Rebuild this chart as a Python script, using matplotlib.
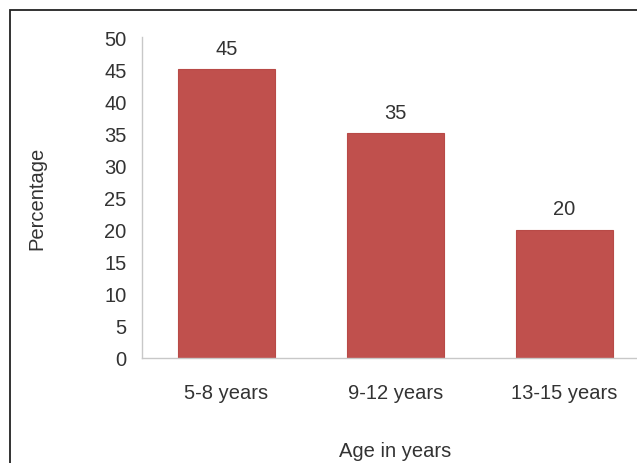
import matplotlib.pyplot as plt
from matplotlib.patches import Rectangle

plt.rcParams['font.family'] = ['Liberation Sans', 'DejaVu Sans']

age_groups = ["5-8 years", "9-12 years", "13-15 years"]
percentages = [45, 35, 20]
y_ticks = list(range(0, 55, 5))

bar_color = "#C0504D"
text_color = "#333333"
fs = 14.5

fig = plt.figure(figsize=(6.37, 4.64), dpi=100)
# outer frame (runs off the right and bottom edges)
fig.patches.append(Rectangle((10 / 637, -0.05), 1.1, 1 - 11 / 464 + 0.05,
                             transform=fig.transFigure, fill=False,
                             edgecolor="#222222", linewidth=1.3))

ax = fig.add_axes([142 / 637, 1 - 359 / 464, (649 - 142) / 637, (359 - 38) / 464])
x = range(len(age_groups))
bars = ax.bar(x, percentages, width=0.57, color=bar_color, edgecolor="#B84A47", linewidth=0.8)

for xi, v in zip(x, percentages):
    ax.text(xi, v + 1.8, str(v), ha="center", va="bottom", fontsize=fs, color=text_color)

ax.set_xlim(-0.5, 2.5)
ax.set_ylim(0, 50)
ax.set_yticks(y_ticks)
ax.set_xticks(list(x))
ax.set_xticklabels(age_groups)
ax.tick_params(axis="y", length=0, pad=11, labelsize=fs, labelcolor=text_color)
ax.tick_params(axis="x", length=0, pad=18, labelsize=fs, labelcolor=text_color)

for side in ["top", "right"]:
    ax.spines[side].set_visible(False)
for side in ["left", "bottom"]:
    ax.spines[side].set_color("#C8C8C8")
    ax.spines[side].set_linewidth(1.0)

ax.set_xlabel("Age in years", fontsize=fs, color=text_color, labelpad=28)
ax.set_ylabel("Percentage", fontsize=fs, color=text_color, labelpad=42)

fig.savefig("out.png", dpi=100)
